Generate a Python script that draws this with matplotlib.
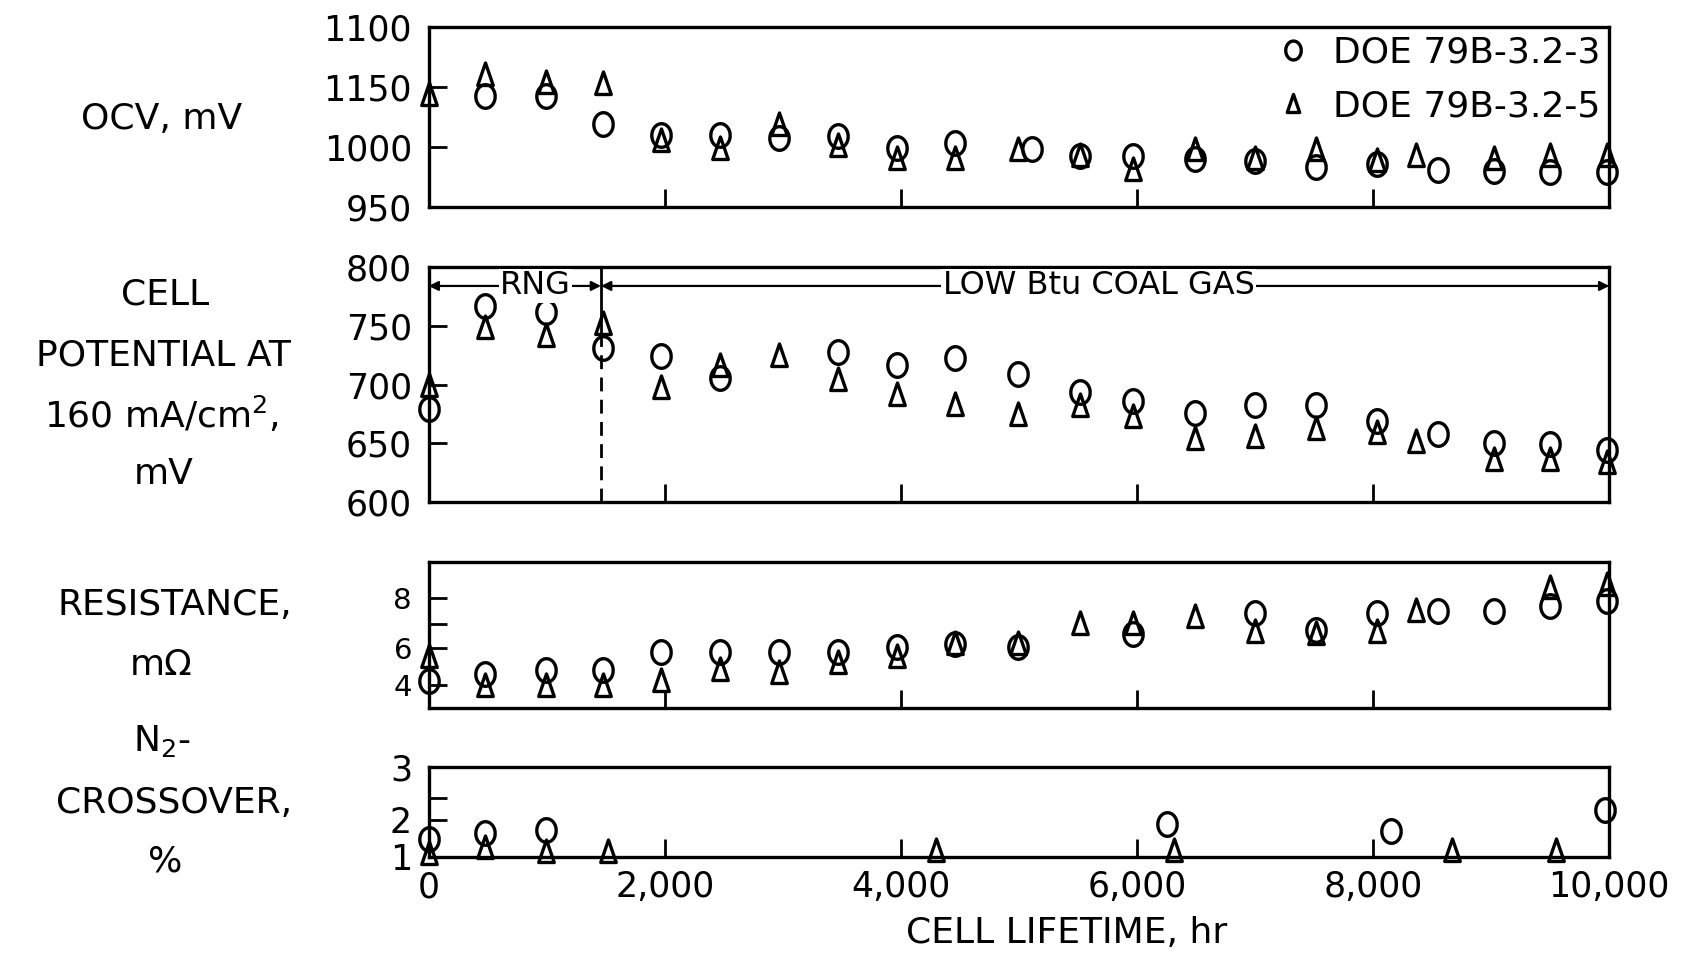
import numpy as np
import matplotlib.pyplot as plt
from matplotlib.path import Path

plt.rcParams["font.family"] = ["DejaVu Sans"]
plt.rcParams["mathtext.fontset"] = "dejavusans"

# ---------------- data ----------------
# OCV, mV
ocv_hr_3 = [480, 990, 1480, 1970, 2470, 2970, 3470, 3970, 4460, 5110, 5520, 5970,
            6490, 7000, 7520, 8030, 8550, 9020, 9500, 9980]
ocv_mv_3 = [1042, 1042, 1019, 1010, 1010, 1007, 1009, 999, 1003, 998, 992, 992,
            990, 988, 983, 986, 981, 980, 979, 979]
ocv_hr_5 = [0, 480, 990, 1480, 1970, 2470, 2970, 3470, 3970, 4460, 4990, 5520, 5970,
            6490, 7000, 7520, 8030, 8360, 9020, 9500, 9980]
ocv_mv_5 = [1043, 1060, 1053, 1052, 1005, 998, 1018, 1001, 990, 990, 997, 992, 981,
            997, 990, 997, 988, 992, 990, 992, 992]

# cell potential at 160 mA/cm2, mV
pot_hr_3 = [0, 480, 990, 1480, 1970, 2470, 3470, 3970, 4460, 4990, 5520, 5970,
            6490, 7000, 7520, 8030, 8550, 9020, 9500, 9980]
pot_mv_3 = [679, 767, 762, 731, 724, 706, 728, 717, 723, 709, 694, 686,
            676, 683, 683, 669, 658, 650, 649, 644]
pot_hr_5 = [0, 480, 990, 1480, 1970, 2470, 2970, 3470, 3970, 4460, 4990, 5520, 5970,
            6490, 7000, 7520, 8030, 8360, 9020, 9500, 9980]
pot_mv_5 = [699, 748, 741, 752, 697, 716, 724, 704, 691, 683, 674, 682, 672,
            654, 655, 662, 659, 651, 636, 636, 633]

# resistance, mOhm
res_hr_3 = [0, 480, 990, 1480, 1970, 2470, 2970, 3470, 3970, 4460, 4990, 5970,
            7000, 7520, 8030, 8550, 9020, 9500, 9980]
res_mo_3 = [4.8, 5.04, 5.2, 5.2, 5.9, 5.9, 5.9, 5.9, 6.1, 6.2, 6.1, 6.6,
            7.4, 6.75, 7.4, 7.5, 7.5, 7.7, 7.9]
res_hr_5 = [0, 480, 990, 1480, 1970, 2470, 2970, 3470, 3970, 4460, 4990, 5520, 5970,
            6490, 7000, 7520, 8030, 8360, 9500, 9980]
res_mo_5 = [5.7, 4.6, 4.6, 4.6, 4.8, 5.2, 5.1, 5.5, 5.7, 6.2, 6.2, 7.0, 7.0,
            7.25, 6.7, 6.6, 6.7, 7.5, 8.4, 8.5]

# N2 crossover, %
n2_hr_3 = [0, 480, 990, 6250, 8150, 9960]
n2_pct_3 = [1.4, 1.52, 1.6, 1.72, 1.57, 2.04]
n2_hr_5 = [0, 480, 990, 1520, 4300, 6310, 8670, 9550]
n2_pct_5 = [1.05, 1.2, 1.1, 1.1, 1.12, 1.12, 1.12, 1.12]

series_labels = ["DOE 79B-3.2-3", "DOE 79B-3.2-5"]
x_ticks = [0, 2000, 4000, 6000, 8000, 10000]
x_ticklabels = ["0", "2,000", "4,000", "6,000", "8,000", "10,000"]

# slightly tall circle and narrow triangle, like the hand lettered markers
theta = np.linspace(0, 2 * np.pi, 60)
oval = Path(np.column_stack([0.82 * np.cos(theta), np.sin(theta)]))
tri = Path([(-0.62, -0.8), (0.62, -0.8), (0.0, 1.0), (-0.62, -0.8)],
           [Path.MOVETO, Path.LINETO, Path.LINETO, Path.CLOSEPOLY])

FS = 25
LW = 2.4

fig = plt.figure(figsize=(16.89, 9.61), dpi=100)
left, width = 0.2538, 0.699
boxes = [(0.7848, 0.1872), (0.4776, 0.2444), (0.2635, 0.1513), (0.1087, 0.0931)]
axes = [fig.add_axes([left, b, width, h]) for b, h in boxes]


def draw(ax, x3, y3, x5, y5):
    ax.plot(x3, y3, ls="none", marker=oval, ms=17, mfc="none", mec="k", mew=2.4,
            clip_on=False, zorder=3, label=series_labels[0])
    ax.plot(x5, y5, ls="none", marker=tri, ms=18, mfc="none", mec="k", mew=2.4,
            clip_on=False, zorder=3, label=series_labels[1])


draw(axes[0], ocv_hr_3, ocv_mv_3, ocv_hr_5, ocv_mv_5)
draw(axes[1], pot_hr_3, pot_mv_3, pot_hr_5, pot_mv_5)
draw(axes[2], res_hr_3, res_mo_3, res_hr_5, res_mo_5)
draw(axes[3], n2_hr_3, n2_pct_3, n2_hr_5, n2_pct_5)

axes[0].set_ylim(950, 1100)
axes[0].set_yticks([950, 1000, 1050, 1100])
axes[0].set_yticklabels(["950", "1000", "1150", "1100"])

axes[1].set_ylim(600, 800)
axes[1].set_yticks([600, 650, 700, 750, 800])

axes[2].set_ylim(3.75, 9.375)
axes[2].set_yticks([4.65, 6.05, 7, 8])
axes[2].set_yticklabels(["4", "6", "", "8"])

axes[3].set_ylim(1, 3)
axes[3].set_yticks([1, 1.82, 2.3, 3])
axes[3].set_yticklabels(["1", "2", "", "3"])

for i, ax in enumerate(axes):
    ax.set_xlim(0, 10000)
    ax.set_xticks(x_ticks)
    if i < 3:
        ax.set_xticklabels([])
    else:
        ax.set_xticklabels(x_ticklabels)
    for s in ax.spines.values():
        s.set_linewidth(LW)
    ax.tick_params(direction="in", length=13, width=2, labelsize=FS, pad=12)
    ax.tick_params(axis="x", pad=10)
axes[2].tick_params(axis="y", labelsize=21)

# legend
axes[0].legend(loc="upper right", frameon=False, fontsize=FS + 1, markerscale=0.8,
               handlelength=0.8, handletextpad=0.7, borderaxespad=0.1,
               labelspacing=0.55, borderpad=0.15)

# fuel annotation in the cell potential panel
ax = axes[1]
y_dim = 784
switch_hr = 1460
ax.plot([switch_hr, switch_hr], [745, 800], color="k", lw=2)
ax.plot([switch_hr, switch_hr], [600, 745], color="k", lw=2, ls=(0, (5, 3)))
arrow = dict(arrowstyle="<|-|>", color="k", lw=1.6, mutation_scale=14,
             shrinkA=0, shrinkB=0)
ax.annotate("", xy=(0, y_dim), xytext=(switch_hr, y_dim), arrowprops=arrow)
ax.annotate("", xy=(switch_hr, y_dim), xytext=(10000, y_dim), arrowprops=arrow)
ax.text(903, y_dim, "RNG", fontsize=FS - 2, ha="center", va="center",
        bbox=dict(facecolor="white", edgecolor="none", pad=1))
ax.text(5675, y_dim, "LOW Btu COAL GAS", fontsize=FS - 2, ha="center", va="center",
        bbox=dict(facecolor="white", edgecolor="none", pad=1))

# panel titles on the left
W, H = 1568, 892


def label(x, y, s):
    fig.text(x / W, 1 - y / H, s, fontsize=FS + 1, ha="center", va="center")


label(150, 110, "OCV, mV")
label(153, 273, "CELL")
label(152, 330, "POTENTIAL AT")
label(150, 385, "160 mA/cm$^2$,")
label(152, 440, "mV")
label(162, 562, "RESISTANCE,")
label(150, 617, "m\u03a9")
label(150, 688, "N$_2$-")
label(162, 745, "CROSSOVER,")
label(153, 800, "%")
label(990, 866, "CELL LIFETIME, hr")

fig.savefig("out.png", dpi=100)
